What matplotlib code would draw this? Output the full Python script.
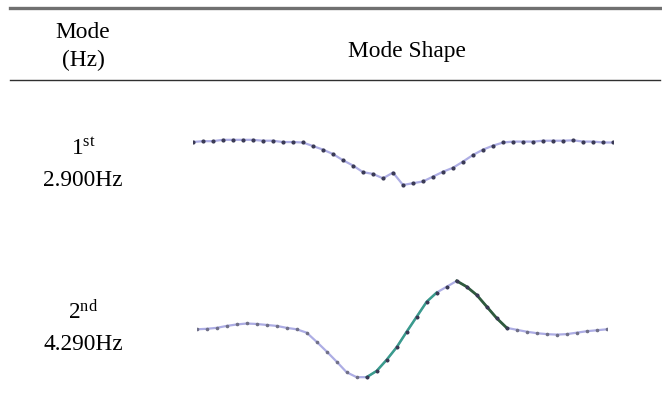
import matplotlib
matplotlib.use('Agg')
import matplotlib.pyplot as plt
from matplotlib.lines import Line2D

plt.rcParams['font.family'] = ['Liberation Serif', 'DejaVu Serif']
plt.rcParams['mathtext.fontset'] = 'custom'
plt.rcParams['mathtext.rm'] = 'Liberation Serif'
plt.rcParams['mathtext.it'] = 'Liberation Serif:italic'

# Table text
header_mode = ['Mode', '(Hz)']
header_shape = 'Mode Shape'
mode_order = ['1', '2']
mode_suffix = ['st', 'nd']
mode_freq = ['2.900Hz', '4.290Hz']

# Mode 1 shape (normalised displacement per node)
mode1 = [-0.03, -0.01, -0.01, 0.02, 0.02, 0.02, 0.02, 0.00, 0.00, -0.03, -0.03, -0.04,
         -0.12, -0.20, -0.30, -0.44, -0.56, -0.71, -0.75, -0.85, -0.72, -1.00,
         -0.96, -0.92, -0.81, -0.70, -0.61, -0.47, -0.32, -0.20, -0.11, -0.04,
         -0.02, -0.02, -0.02, 0.00, 0.00, 0.00, 0.01, -0.02, -0.02, -0.04, -0.04]

# Mode 2 shape
mode2 = [0.00, 0.01, 0.03, 0.07, 0.10, 0.12, 0.11, 0.09, 0.07, 0.03, 0.00, -0.07,
         -0.26, -0.46, -0.67, -0.89, -0.99, -0.99, -0.86, -0.63, -0.37, -0.05,
         0.26, 0.57, 0.76, 0.88, 1.00, 0.88, 0.71, 0.47, 0.23, 0.03,
         -0.01, -0.05, -0.08, -0.10, -0.11, -0.10, -0.07, -0.04, -0.02, 0.00]

W, H = 662, 408
fig = plt.figure(figsize=(W / 100, H / 100), dpi=100)

def px_axes(x0, x1, y_top, y_bot):
    return fig.add_axes([x0 / W, 1 - y_bot / H, (x1 - x0) / W, (y_bot - y_top) / H])

# table rules
fig.add_artist(Line2D([10 / W, 660 / W], [1 - 8 / H, 1 - 8 / H], color='#707070', lw=2.4))
fig.add_artist(Line2D([10 / W, 660 / W], [1 - 80 / H, 1 - 80 / H], color='#303030', lw=1.0))

fs = 16.8
fig.text(83 / W, 1 - 33 / H, header_mode[0], ha='center', va='center', fontsize=fs)
fig.text(83 / W, 1 - 60 / H, header_mode[1], ha='center', va='center', fontsize=fs)
fig.text(407 / W, 1 - 52 / H, header_shape, ha='center', va='center', fontsize=fs)

row_y = [(149, 181), (312, 344)]
for i in range(2):
    fig.text(83 / W, 1 - row_y[i][0] / H, mode_order[i] + r'$^{\mathrm{' + mode_suffix[i] + '}}$',
             ha='center', va='center', fontsize=fs)
    fig.text(83 / W, 1 - row_y[i][1] / H, mode_freq[i], ha='center', va='center', fontsize=fs)

line_c = '#adadE4'
dot_c = '#3a3a55'

ax1 = px_axes(192.7, 613.3, 136.3, 189.4)
x1 = list(range(len(mode1)))
ax1.plot(x1, mode1, color=line_c, lw=1.6, marker='o', ms=2.0, mfc=dot_c, mec=dot_c)
ax1.set_xlim(0, len(mode1) - 1)
ax1.set_ylim(-1.1, 0.1)
ax1.axis('off')

ax2 = px_axes(196.7, 606.7, 276.1, 382.5)
x2 = list(range(len(mode2)))
ax2.plot(x2, mode2, color=line_c, lw=1.6, marker='o', ms=1.6, mfc='#707088', mec='#707088')
# coloured portions of the second shape
ax2.plot(x2[17:25], mode2[17:25], color='#3a9c8c', lw=1.8, zorder=3)
ax2.plot(x2[26:32], mode2[26:32], color='#2f5a3c', lw=2.0, zorder=3)
ax2.plot(x2[17:32], mode2[17:32], ls='none', marker='o', ms=1.8, mfc=dot_c, mec=dot_c, zorder=4)
ax2.set_xlim(0, len(mode2) - 1)
ax2.set_ylim(-1.1, 1.1)
ax2.axis('off')

fig.savefig('out.png', dpi=100)
